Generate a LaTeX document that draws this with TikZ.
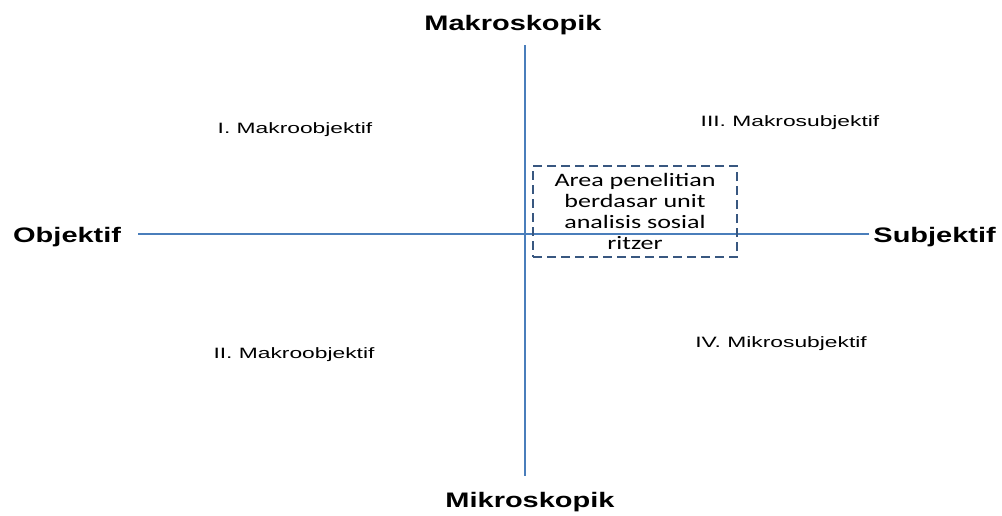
\documentclass[tikz,border=0pt]{standalone}
\usepackage{fontspec}
\usepackage{xcolor}
\usepackage{tikz}
\usetikzlibrary{positioning}
\setmainfont{Liberation Sans}
\newfontfamily\axisfont[FakeStretch=1.38]{Liberation Sans}
\newfontfamily\quadfont[FakeStretch=1.52]{Liberation Sans}
\newfontfamily\areafont[FakeStretch=1.37]{Carlito}
\definecolor{axisblue}{RGB}{74,126,187}
\definecolor{areablue}{RGB}{56,87,128}

\begin{document}
\begin{tikzpicture}[x=1pt, y=-1pt]
  \tikzstyle{axislabel} = [inner sep=0pt, anchor=base, font=\axisfont\bfseries\fontsize{21}{25}\selectfont]
  \tikzstyle{quadlabel} = [inner sep=0pt, anchor=base, font=\quadfont\fontsize{15}{18}\selectfont]
  \tikzstyle{areabox} = [rectangle, draw=areablue, line width=2pt, dash pattern=on 9pt off 5pt, minimum width=204pt, minimum height=91pt, inner sep=0pt, align=center, font=\areafont\fontsize{19}{21.3}\selectfont]
  \tikzstyle{axisline} = [axisblue, line width=1.2pt]

  \useasboundingbox (0,0) rectangle (1002,515);

  \node [axislabel] (makro) at (513, 30) {Makroskopik};
  \node [axislabel] (mikro) at (530, 507) {Mikroskopik};
  \node [axislabel, anchor=base west] (obj) at (13, 242) {Objektif};
  \node [axislabel, anchor=base east] (subj) at (996, 242) {Subjektif};

  \node [quadlabel] (kw1) at (295, 133) {I. Makroobjektif};
  \node [quadlabel] (kw3) at (790, 126) {III. Makrosubjektif};
  \node [quadlabel] (kw2) at (294, 358) {II. Makroobjektif};
  \node [quadlabel] (kw4) at (781, 347) {IV. Mikrosubjektif};

  \coordinate (vtop) at (525, 45);
  \coordinate (vbot) at (525, 476);
  \coordinate (hleft) at (138, 234);
  \coordinate (hright) at (869, 234);

  \draw [axisline] (vtop) -- (vbot);
  \draw [axisline] (hleft) -- (hright);

  \node [areabox] (area) at (635, 211.5) {Area penelitian\\berdasar unit\\analisis sosial\\ritzer};
\end{tikzpicture}
\end{document}
